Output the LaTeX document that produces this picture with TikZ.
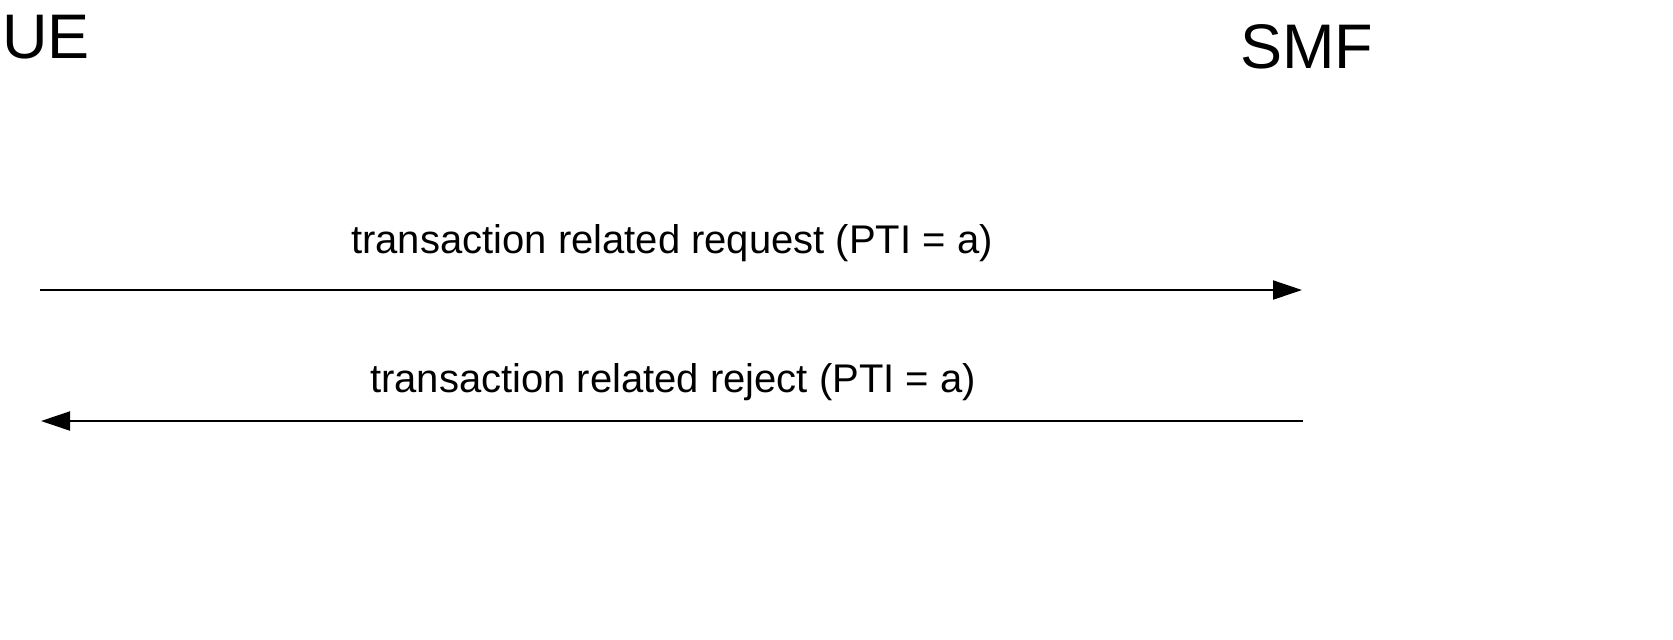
\documentclass[tikz,border=0pt]{standalone}
\usepackage{fontspec}
\setmainfont{Liberation Sans}
\usetikzlibrary{arrows.meta, positioning}
\tikzset{
x=0.5pt, y=-0.5pt, % one unit is one pixel of the sheet
>={Triangle[length=14.5pt, width=9.5pt]}, % solid arrow heads
entity/.style={inner sep=0pt, anchor=base west, font=\fontsize{31.5}{36}\selectfont}, % UE and SMF
msg/.style={inner sep=0pt, anchor=base, font=\fontsize{20}{24}\selectfont}, % message texts
flow/.style={->, line width=1pt}, % message arrows
}

\begin{document}
\begin{tikzpicture}
      \useasboundingbox (0,0) rectangle (1673,639);
      \node[entity] (ue) at (2,58) {UE};
      \node[entity] (smf) at (1240,68) {SMF};

      \coordinate (ue1) at (40,290);
      \coordinate (smf1) at (1302,290);
      \coordinate (ue2) at (41,421);
      \coordinate (smf2) at (1303,421);

      \node[msg] (req) at (672,253) {transaction related request (PTI = a)};
      \node[msg] (rej) at (673,392) {transaction related reject (PTI = a)};

      \draw[flow] (ue1) -- (smf1);
      \draw[flow] (smf2) -- (ue2);
\end{tikzpicture}
\end{document}
